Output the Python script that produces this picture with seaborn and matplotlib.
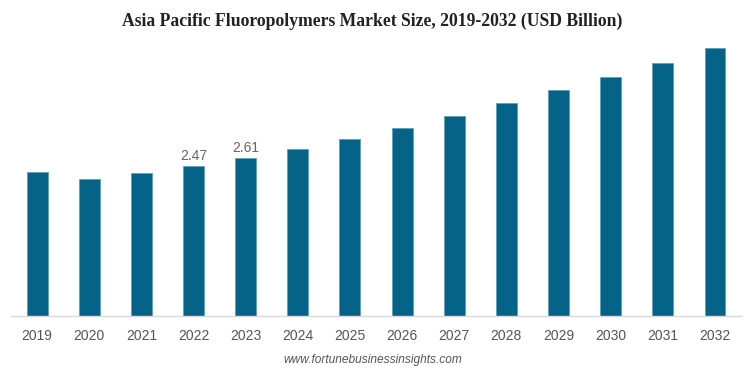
import pandas as pd
import seaborn as sns
import matplotlib.pyplot as plt

# values (USD billion)
years = ["2019", "2020", "2021", "2022", "2023", "2024", "2025",
         "2026", "2027", "2028", "2029", "2030", "2031", "2032"]
market_size = [2.37, 2.26, 2.35, 2.47, 2.61, 2.76, 2.92,
               3.10, 3.30, 3.51, 3.72, 3.94, 4.17, 4.42]
labelled_years = ["2022", "2023"]

df = pd.DataFrame({"Year": years, "Size": market_size})

sns.set_style("white")
plt.rcParams["font.family"] = ["Liberation Sans", "DejaVu Sans"]

fig = plt.figure(figsize=(7.45, 3.72), dpi=100)
ax = fig.add_axes([11 / 745, 56 / 372, 730 / 745, 279 / 372])

sns.barplot(data=df, x="Year", y="Size", color="#066388", saturation=1,
            width=0.4, edgecolor="#5f9fb8", linewidth=0.6, ax=ax)

# data labels on the two highlighted years
for i, (yr, val) in enumerate(zip(years, market_size)):
    if yr in labelled_years:
        ax.text(i, val + 0.05, f"{val:.2f}", ha="center", va="bottom",
                fontsize=10, color="#666666")

ax.set_ylim(0, 4.6)
ax.set_xlim(-0.5, len(years) - 0.5)
ax.set_yticks([])
ax.set_xlabel("")
ax.set_ylabel("")
for s in ["top", "right", "left"]:
    ax.spines[s].set_visible(False)
ax.spines["bottom"].set_color("#d9d9d9")
ax.spines["bottom"].set_linewidth(1)
ax.tick_params(axis="x", length=0, pad=9, labelsize=10, labelcolor="#555555")

fig.text(0.5, 1 - 21 / 372, "Asia Pacific Fluoropolymers Market Size, 2019-2032 (USD Billion)",
         ha="center", va="center", fontsize=12.7, fontweight="bold",
         family="Liberation Serif", color="#222222")
fig.text(0.5, 1 - 360 / 372, "www.fortunebusinessinsights.com",
         ha="center", va="center", fontsize=8.6, style="italic", color="#555555")

fig.savefig("out.png", dpi=100)
